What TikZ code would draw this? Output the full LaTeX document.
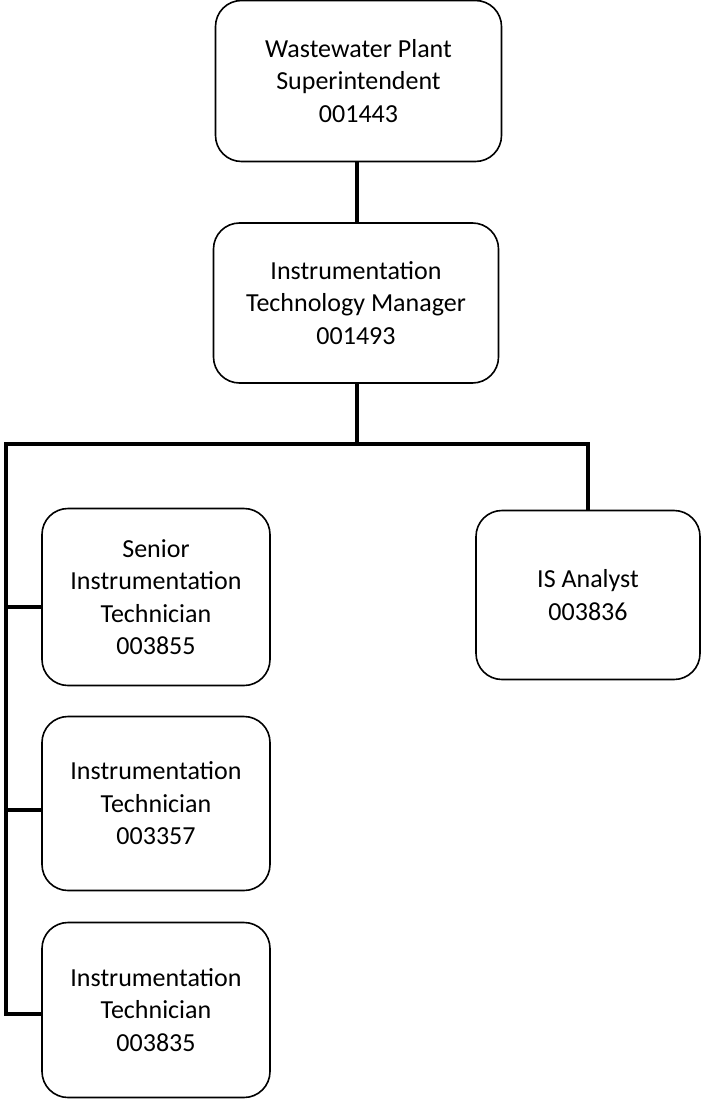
\documentclass[tikz,border=0pt]{standalone}
\usepackage{fontspec}
\setmainfont{Carlito}
\begin{document}
\begin{tikzpicture}[x=1pt,y=1pt,
  box/.style={draw=black, line width=1.6pt, rounded corners=26pt, fill=white,
    inner sep=0pt, align=center, font=\fontsize{26}{32.5}\selectfont},
  link/.style={draw=black, line width=4.5pt, line join=miter}]
\useasboundingbox (0,0) rectangle (702,-1099);
\node[box, minimum width=286pt, minimum height=161pt] (sup) at (358.5,-81) {Wastewater Plant\\Superintendent\\001443};
\node[box, minimum width=285pt, minimum height=160pt] (mgr) at (356,-303) {Instrumentation\\Technology Manager\\001493};
\node[box, minimum width=228pt, minimum height=177pt] (sen) at (156,-597) {Senior\\Instrumentation\\Technician\\003855};
\node[box, minimum width=224pt, minimum height=169pt] (isa) at (588,-595) {IS Analyst\\003836};
\node[box, minimum width=228pt, minimum height=174pt] (t1) at (156,-803.5) {Instrumentation\\Technician\\003357};
\node[box, minimum width=228pt, minimum height=175pt] (t2) at (156,-1010) {Instrumentation\\Technician\\003835};
\coordinate (busL) at (6,-444);
\coordinate (busR) at (588,-444);
\draw[link] (sup.south -| 357,0) -- (mgr.north -| 357,0);
\draw[link] (mgr.south -| 357,0) -- (busL -| 357,0);
\draw[link] (isa.north) -- (busR) -- (busL) -- (busL |- 0,-1014) -- ([yshift=-4pt]t2.west);
\draw[link] (busL |- 0,-607) -- ([yshift=-10pt]sen.west);
\draw[link] (busL |- 0,-810) -- ([yshift=-6.5pt]t1.west);
\end{tikzpicture}
\end{document}
